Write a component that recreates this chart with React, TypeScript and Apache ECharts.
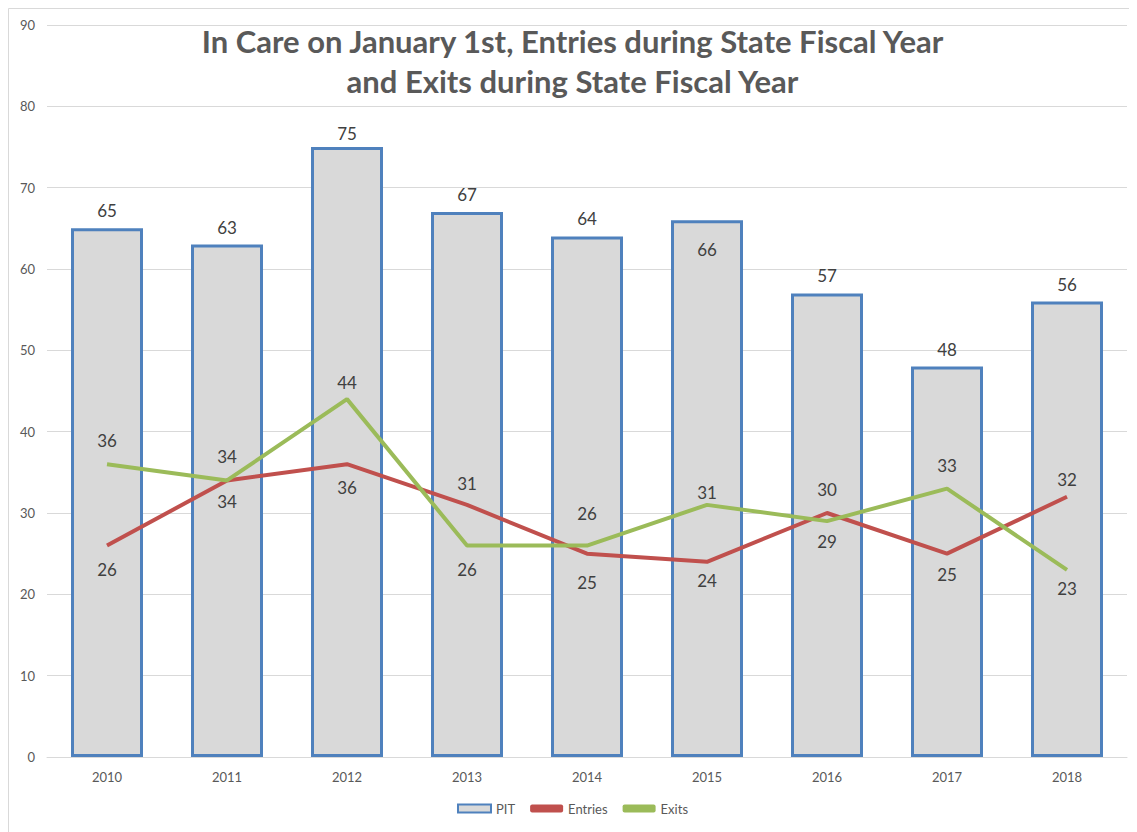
import React, { useEffect, useRef } from "react";
import * as echarts from "echarts";

const years = ["2010", "2011", "2012", "2013", "2014", "2015", "2016", "2017", "2018"];
const pit = [65, 63, 75, 67, 64, 66, 57, 48, 56];
const entries = [26, 34, 36, 31, 25, 24, 30, 25, 32];
const exits = [36, 34, 44, 26, 26, 31, 29, 33, 23];
const pitPos = ["top", "top", "top", "top", "top", "insideTop", "top", "top", "top"];
const pitDist = [9, 9, 5, 9, 9, 21, 9, 9, 9];
const entriesPos = ["bottom", "bottom", "bottom", "top", "bottom", "bottom", "top", "bottom", "top"];
const entriesDist = [15, 13, 15, 13, 20, 10, 15, 12, 9];
const exitsPos = ["top", "top", "top", "bottom", "top", "top", "bottom", "top", "bottom"];
const exitsDist = [15, 15, 8, 15, 24, 4, 12, 15, 10];

const FONT = "Lato, 'Open Sans', sans-serif";

export default function App() {
  const ref = useRef<HTMLDivElement>(null);
  useEffect(() => {
    if (!ref.current) return;
    const chart = echarts.init(ref.current, null, { renderer: "svg" });
    const lblStyle = { fontSize: 17, color: "#404040", fontFamily: FONT };
    chart.setOption({
      animation: false,
      backgroundColor: "#ffffff",
      textStyle: { fontFamily: FONT },
      title: {
        text: "In Care on January 1st, Entries during State Fiscal Year\nand Exits during State Fiscal Year",
        left: "center",
        top: 8,
        textStyle: { fontSize: 31, fontWeight: "bold", color: "#595959", lineHeight: 40, fontFamily: FONT },
      },
      graphic: [
        {
          type: "polyline",
          shape: { points: [[0.5, 824], [0.5, 0.5], [1129, 0.5]] },
          style: { stroke: "#d9d9d9", lineWidth: 1, fill: "none" },
          silent: true,
        },
      ],
      grid: { left: 39, right: 10, top: 17, bottom: 75, containLabel: false },
      legend: {
        bottom: 12,
        left: "center",
        itemWidth: 33,
        itemHeight: 8,
        itemGap: 15,
        textStyle: { fontSize: 13, color: "#595959", fontFamily: FONT },
        data: [
          { name: "PIT", icon: "rect" },
          { name: "Entries", icon: "roundRect" },
          { name: "Exits", icon: "roundRect" },
        ],
      },
      xAxis: {
        type: "category",
        data: years,
        axisLine: { show: true, lineStyle: { color: "#d9d9d9", width: 1 } },
        axisTick: { show: false },
        axisLabel: { fontSize: 13, color: "#595959", margin: 13, fontFamily: FONT },
      },
      yAxis: {
        type: "value",
        min: 0,
        max: 90,
        interval: 10,
        axisLine: { show: false },
        axisTick: { show: false },
        axisLabel: { fontSize: 13, color: "#595959", margin: 12, fontFamily: FONT },
        splitLine: { lineStyle: { color: "#d9d9d9", width: 1 } },
      },
      series: [
        {
          name: "PIT",
          type: "bar",
          barWidth: "60%",
          itemStyle: { color: "#d9d9d9", borderColor: "#4f81bd", borderWidth: 3 },
          data: pit.map((v, i) => ({
            value: v,
            label: { show: true, position: pitPos[i], distance: pitDist[i], ...lblStyle },
          })),
          z: 1,
        },
        {
          name: "Entries",
          type: "line",
          symbol: "circle",
          symbolSize: 0,
          showSymbol: true,
          lineStyle: { color: "#c0504d", width: 4 },
          itemStyle: { color: "#c0504d" },
          data: entries.map((v, i) => ({
            value: v,
            label: { show: true, position: entriesPos[i], distance: entriesDist[i], ...lblStyle },
          })),
          z: 3,
        },
        {
          name: "Exits",
          type: "line",
          symbol: "circle",
          symbolSize: 0,
          showSymbol: true,
          lineStyle: { color: "#9bbb59", width: 4 },
          itemStyle: { color: "#9bbb59" },
          data: exits.map((v, i) => ({
            value: v,
            label: { show: true, position: exitsPos[i], distance: exitsDist[i], ...lblStyle },
          })),
          z: 4,
        },
      ],
    });
    return () => chart.dispose();
  }, []);
  return <div ref={ref} style={{ width: 1129, height: 824 }} />;
}
